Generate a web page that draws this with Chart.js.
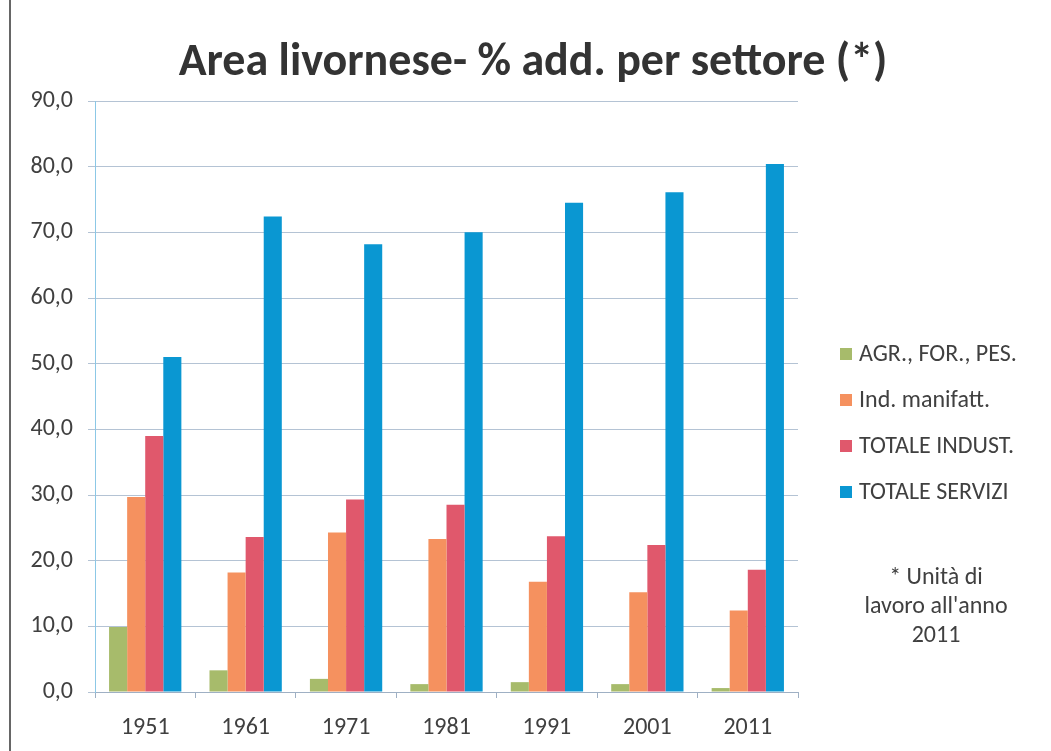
<!DOCTYPE html>
<html lang="it">
<head>
  <meta charset="UTF-8">
  <title>Area livornese - % add. per settore</title>
  <script src="https://cdn.jsdelivr.net/npm/chart.js"></script>
  <style>
    html, body { margin: 0; padding: 0; background: #fff; }
    canvas { display: block; }
  </style>
</head>
<body>
  <canvas id="chart" width="1051" height="751"></canvas>
  <script>
    // data
    const years = ['1951', '1961', '1971', '1981', '1991', '2001', '2011'];
    const agr = [9.9, 3.3, 2.0, 1.2, 1.5, 1.2, 0.6];
    const manif = [29.7, 18.2, 24.3, 23.3, 16.8, 15.2, 12.4];
    const totIndust = [39.0, 23.6, 29.3, 28.5, 23.7, 22.4, 18.6];
    const totServizi = [51.0, 72.4, 68.2, 70.0, 74.5, 76.1, 80.4];
    const seriesNames = ['AGR., FOR., PES.', 'Ind. manifatt.', 'TOTALE INDUST.', 'TOTALE SERVIZI'];
    const yTicks = [0, 10, 20, 30, 40, 50, 60, 70, 80, 90];
    const title = 'Area livornese- % add. per settore (*)';
    const noteLines = ['* Unità di', "lavoro all'anno", '2011'];

    const colors = ['#a7bb6b', '#f5915f', '#e0586c', '#0a97d2'];
    const FONT = "Carlito, Lato, 'Liberation Sans', sans-serif";
    const textColor = '#404040';

    // title, legend, note and the outer frame line
    const extras = {
      id: 'extras',
      afterDraw(chart) {
        const c = chart.ctx;
        c.save();
        c.strokeStyle = '#666';
        c.lineWidth = 2;
        c.beginPath();
        c.moveTo(10, 0);
        c.lineTo(10, 751);
        c.stroke();

        c.fillStyle = '#333';
        c.font = 'bold 46px ' + FONT;
        c.textAlign = 'center';
        c.textBaseline = 'middle';
        c.fillText(title, 533, 63);

        c.font = '24px ' + FONT;
        c.textAlign = 'left';
        const rowY = [354, 400, 446, 492];
        chart.data.datasets.forEach((ds, i) => {
          c.fillStyle = ds.backgroundColor;
          c.fillRect(840, rowY[i] - 6, 12, 12);
          c.fillStyle = textColor;
          c.fillText(ds.label, 859, rowY[i] + 1);
        });

        c.textAlign = 'center';
        noteLines.forEach((t, i) => {
          c.fillText(t, 936, 578 + i * 29);
        });
        c.restore();
      }
    };

    new Chart(document.getElementById('chart').getContext('2d'), {
      type: 'bar',
      data: {
        labels: years,
        datasets: [agr, manif, totIndust, totServizi].map((d, i) => ({
          label: seriesNames[i],
          data: d,
          backgroundColor: colors[i],
          borderWidth: 0
        }))
      },
      options: {
        responsive: false,
        animation: false,
        layout: { padding: { left: 0, right: 253, top: 101, bottom: 0 } },
        datasets: { bar: { barPercentage: 1, categoryPercentage: 0.72 } },
        plugins: {
          legend: { display: false },
          title: { display: false },
          tooltip: { enabled: false }
        },
        scales: {
          x: {
            afterFit: s => { s.height = 59; },
            grid: { offset: true, drawOnChartArea: false, color: '#9fb0c4', tickLength: 6 },
            border: { color: '#9fb0c4', width: 1 },
            ticks: { color: textColor, font: { family: FONT, size: 24 }, padding: 16 }
          },
          y: {
            min: 0,
            max: 90,
            afterFit: s => { s.width = 95; },
            afterBuildTicks: s => { s.ticks = yTicks.map(v => ({ value: v })); },
            grid: { color: '#b4c3d4', tickLength: 7 },
            border: { color: '#8cc8e6', width: 1 },
            ticks: {
              color: textColor,
              font: { family: FONT, size: 24 },
              padding: 15,
              callback: v => v.toFixed(1).replace('.', ',')
            }
          }
        }
      },
      plugins: [extras]
    });
  </script>
</body>
</html>
